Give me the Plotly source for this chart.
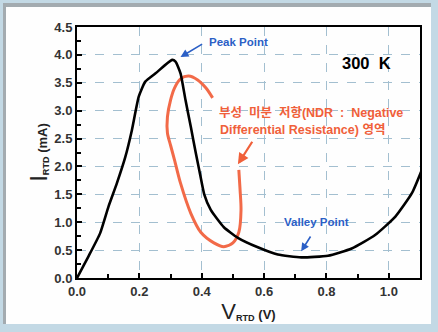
import plotly.graph_objects as go

# I-V curve of the RTD (V in volts, I in mA)
v_rtd = [0, 0.036, 0.074, 0.101, 0.128, 0.155, 0.176, 0.198, 0.219, 0.252, 0.305, 0.316,
         0.332, 0.348, 0.365, 0.381, 0.395, 0.408, 0.429, 0.471, 0.516, 0.580, 0.644,
         0.719, 0.805, 0.881, 0.956, 1.021, 1.074, 1.106]
i_rtd = [0, 0.38, 0.80, 1.28, 1.70, 2.17, 2.65, 3.25, 3.52, 3.67, 3.91, 3.88,
         3.67, 3.19, 2.71, 2.24, 1.85, 1.50, 1.22, 0.91, 0.72, 0.55, 0.42,
         0.37, 0.40, 0.53, 0.77, 1.10, 1.52, 1.94]

# hand-drawn red loop marking the NDR region
ndr_v = [0.435, 0.413, 0.387, 0.358, 0.332, 0.313, 0.300, 0.290, 0.290, 0.300, 0.313,
         0.332, 0.365, 0.397, 0.439, 0.471, 0.500, 0.519, 0.526, 0.523, 0.519]
ndr_i = [3.23, 3.41, 3.55, 3.62, 3.57, 3.41, 3.19, 2.89, 2.60, 2.38, 2.11,
         1.70, 1.16, 0.82, 0.63, 0.56, 0.63, 0.82, 1.22, 1.58, 1.94]

x_ticks = [0.0, 0.2, 0.4, 0.6, 0.8, 1.0]
y_ticks = [0.0, 0.5, 1.0, 1.5, 2.0, 2.5, 3.0, 3.5, 4.0, 4.5]

W, H = 438, 332
L, R, T, B = 77, 18, 27, 54
pw, ph = W - L - R, H - T - B

def px(x):
    return (x - L) / pw

def py(y):
    return (H - B - y) / ph

FONT = "Liberation Sans, Arial, Noto Sans CJK KR, sans-serif"
BLUE = "#2b5fc6"
RED = "#f0603a"
SP = "&nbsp;"

fig = go.Figure()
fig.add_trace(go.Scatter(x=ndr_v, y=ndr_i, mode="lines",
                         line=dict(color="#f26a48", width=3, shape="spline", smoothing=0.8),
                         hoverinfo="skip", showlegend=False))
fig.add_trace(go.Scatter(x=v_rtd, y=i_rtd, mode="lines",
                         line=dict(color="black", width=2.6, shape="spline", smoothing=0.5),
                         showlegend=False))

axis_common = dict(
    showline=True, linecolor="black", linewidth=2, mirror=True,
    ticks="inside", ticklen=5, tickcolor="black", tickwidth=1.5,
    showgrid=True, gridcolor="#a3bfd0", griddash="dash", gridwidth=1,
    zeroline=False, automargin=False,
    tickfont=dict(family=FONT, size=13, color="#333333", weight="bold"),
)

fig.update_xaxes(range=[0, 1.1], tickvals=x_ticks, ticktext=[f"{t:.1f}" for t in x_ticks],
                 minor=dict(ticks="inside", dtick=0.1, tick0=0, ticklen=4, tickcolor="black", showgrid=False),
                 title=dict(text="<span style='font-size:22px'>V</span><sub><b>RTD</b></sub> <b>(V)</b>",
                            font=dict(family=FONT, size=13, color="#222222"), standoff=2),
                 **axis_common)
fig.update_yaxes(range=[0, 4.5], tickvals=y_ticks, ticktext=[f"{t:.1f}" for t in y_ticks],
                 minor=dict(ticks="inside", dtick=0.25, tick0=0, ticklen=4, tickcolor="black", showgrid=False),
                 title=dict(text="<span style='font-size:24px'>I</span><sub><b>RTD</b></sub> <b>(mA)</b>",
                            font=dict(family=FONT, size=13, color="#222222"), standoff=4),
                 **axis_common)

# panel frame
fig.add_shape(type="rect", xref="paper", yref="paper", layer="below",
              x0=px(3), x1=px(431), y0=py(324), y1=py(3),
              fillcolor="#a3abb0", line=dict(width=0))
fig.add_shape(type="rect", xref="paper", yref="paper", layer="below",
              x0=px(6), x1=px(431), y0=py(324), y1=py(7),
              fillcolor="#fefefe", line=dict(width=0))

anns = [
    dict(x=0.519, y=4.23, text="<b>Peak Point</b>", font=dict(size=11.5, color=BLUE)),
    dict(x=0.929, y=3.85, text=f"<b>300{SP}{SP}K</b>", font=dict(size=16.5, color="black")),
    dict(x=0.768, y=1.0, text="<b>Valley Point</b>", font=dict(size=11.5, color=BLUE)),
    dict(x=0.450, y=2.97,
         text=f"<b>부성{SP}{SP}미분{SP}{SP}저항(NDR{SP}{SP}:{SP}{SP}Negative</b>", xanchor="left",
         font=dict(size=12.5, color=RED)),
    dict(x=0.452, y=2.65, text="<b>Differential Resistance) 영역</b>", xanchor="left",
         font=dict(size=12.5, color=RED)),
]
for a in anns:
    a.setdefault("xanchor", "center")
    a["font"]["family"] = FONT
    fig.add_annotation(xref="x", yref="y", showarrow=False, **a)

arrows = [
    dict(x=0.332, y=3.96, ax=0.406, ay=4.21, color=BLUE, w=1.6),
    dict(x=0.719, y=0.48, ax=0.752, ay=0.77, color=BLUE, w=1.6),
    dict(x=0.516, y=2.04, ax=0.565, ay=2.47, color=RED, w=2.2),
]
for a in arrows:
    fig.add_annotation(x=a["x"], y=a["y"], ax=a["ax"], ay=a["ay"], xref="x", yref="y",
                       axref="x", ayref="y", text="", showarrow=True, arrowhead=2,
                       arrowsize=1, arrowwidth=a["w"], arrowcolor=a["color"])

fig.update_layout(width=W, height=H, margin=dict(l=L, r=R, t=T, b=B),
                  paper_bgcolor="#c3d9e5", plot_bgcolor="#fefefe",
                  font=dict(family=FONT), showlegend=False)

fig.write_html("out.html", config={"displayModeBar": False},
               post_script="document.body.style.margin='0';document.body.style.overflow='hidden';")
